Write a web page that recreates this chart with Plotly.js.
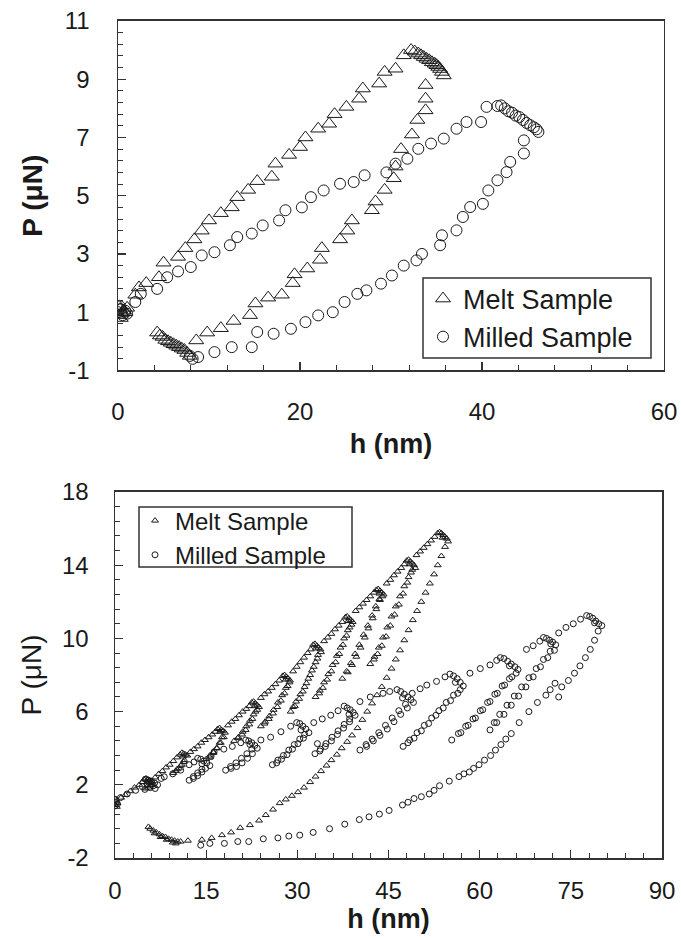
<!DOCTYPE html>
<html>
<head>
<meta charset="utf-8">
<script src="https://cdn.plot.ly/plotly-3.0.1.min.js"></script>
<style>html,body{margin:0;padding:0;background:#fff;}#chart{width:681px;height:940px;}</style>
</head>
<body>
<div id="chart"></div>
<script>
// ---------- DATA (h in nm, P in µN) ----------
const seriesNames = ["Melt Sample", "Milled Sample"];

// Tick values
const topXTicks = [0, 20, 40, 60];
const topYTicks = [-1, 1, 3, 5, 7, 9, 11];
const botXTicks = [0, 15, 30, 45, 60, 75, 90];
const botYTicks = [-2, 2, 6, 10, 14, 18];

// Top panel: melt sample [h, P]
const topMelt = [
  [0.0,0.9],[0.2,1.1],[0.4,0.95],[0.6,1.05],[0.8,1.0],[1.0,1.15],[0.3,0.8],[0.1,1.2],
  [1.9,1.6],[2.3,1.85],[3.1,2.0],[4.5,2.2],[5.0,2.7],[6.6,2.9],[7.4,3.2],[8.4,3.5],[9.2,3.8],[10.0,4.15],
  [11.3,4.4],[12.5,4.6],[13.1,4.95],[14.3,5.2],[15.3,5.5],[16.9,5.65],[17.3,6.1],[18.8,6.4],[20.0,6.67],[20.6,7.0],
  [22.0,7.3],[23.2,7.47],[23.8,7.8],[25.1,8.05],[26.5,8.33],[26.9,8.68],[28.7,8.85],[29.3,9.25],[30.5,9.36],[31.4,9.82],[32.2,10.0],
  [32.6,9.95],[33.0,9.88],[33.3,9.82],[33.6,9.76],[33.9,9.7],[34.2,9.65],[34.5,9.58],[34.8,9.53],[35.0,9.48],[35.2,9.42],[35.4,9.35],[35.6,9.25],[35.8,9.13],
  [33.8,8.8],[33.8,8.33],[33.8,7.93],[32.9,7.6],[32.3,7.1],[31.1,6.6],[30.5,6.0],[30.3,5.6],[29.3,5.2],[28.3,4.8],
  [27.9,4.5],[25.7,4.15],[25.2,3.8],[24.4,3.5],[22.4,3.2],[22.2,2.8],[20.8,2.5],[19.4,2.3],[19.2,2.0],[18.0,1.6],
  [16.5,1.5],[15.1,1.3],[14.5,0.9],[12.7,0.7],[11.3,0.45],[9.8,0.3],[8.6,0.03],
  [4.3,0.3],[4.6,0.2],[4.9,0.15],[5.2,0.05],[5.5,0.0],[5.8,-0.05],[6.1,-0.1],[6.4,-0.15],[6.7,-0.2],[7.0,-0.25],[7.3,-0.3],[7.6,-0.4],[7.9,-0.5]
];

// Top panel: milled sample [h, P]
const topMill = [
  [0.0,1.0],[0.3,1.1],[0.5,0.9],[0.8,1.05],[0.2,1.2],[1.0,0.95],
  [1.9,1.35],[2.5,1.63],[4.3,1.8],[5.4,2.2],[6.6,2.4],[8.0,2.55],[9.2,2.95],[10.6,3.06],[12.3,3.3],[13.1,3.58],
  [14.7,3.7],[15.9,3.98],[17.7,4.15],[18.4,4.5],[20.2,4.6],[21.2,4.95],[22.6,5.18],[24.4,5.41],[25.9,5.47],[27.1,5.7],
  [29.5,5.8],[30.5,6.1],[31.8,6.27],[33.0,6.61],[34.4,6.79],[35.8,6.96],[37.2,7.3],[38.3,7.53],[39.9,7.53],[40.5,8.05],
  [41.7,8.08],[42.1,8.1],[42.5,8.0],[42.9,7.9],[43.3,7.85],[43.7,7.75],[44.1,7.7],[44.5,7.6],[44.9,7.5],[45.3,7.42],[45.7,7.35],[46.0,7.28],[46.2,7.19],
  [44.6,6.9],[44.6,6.45],[43.1,6.16],[42.7,5.81],[41.7,5.53],[40.7,5.18],[40.1,4.72],[38.7,4.61],[37.9,4.27],[37.2,3.81],
  [35.6,3.64],[35.4,3.3],[33.4,3.0],[32.8,2.78],[31.4,2.6],[30.1,2.26],[28.9,1.98],[27.3,1.75],[26.3,1.63],[24.9,1.35],
  [23.6,1.0],[22.0,0.89],[20.6,0.66],[19.0,0.43],[17.1,0.26],[15.3,0.32],[14.7,-0.2],[12.5,-0.2],[10.6,-0.37],[8.8,-0.54],
  [8.2,-0.6],[7.9,-0.5]
];

// Bottom panel: melt sample, cyclic loading [h, P]
const botMelt = [
  [0,0.9],[0.2,1.1],[0.4,1.0],[0.1,1.2],[0.3,0.8],
  [1.0,1.3],[1.7,1.45],[2.5,1.65],[3.2,1.85],[4.0,2.0],[4.5,2.15],
  [4.8,2.3],[5.1,2.35],[5.4,2.3],[5.7,2.25],[6.0,2.2],[5.3,2.15],[5.9,2.1],
  [5.4,1.95],[5.0,1.8],[5.5,1.85],[6.0,2.0],
  [6.6,2.4],[7.2,2.6],[7.8,2.75],[8.4,2.95],[9.0,3.1],[9.6,3.3],[10.2,3.5],[10.7,3.65],
  [11.0,3.75],[11.3,3.7],[11.6,3.65],[11.9,3.6],[11.2,3.55],
  [11.4,3.35],[11.0,3.1],[10.5,2.9],[10.0,2.75],[9.6,2.65],
  [10.2,2.85],[10.8,3.05],[11.3,3.25],
  [12.4,3.8],[13.0,3.95],[13.6,4.1],[14.2,4.3],[14.8,4.45],[15.4,4.6],[16.0,4.75],[16.5,4.9],
  [16.9,5.05],[17.2,5.1],[17.5,5.0],[17.8,4.95],[18.1,4.85],[17.3,4.9],
  [17.6,4.6],[17.2,4.3],[16.7,4.0],[16.2,3.8],[15.6,3.6],[15.0,3.4],
  [15.6,3.5],[16.2,3.75],[16.8,4.0],[17.4,4.3],[17.9,4.6],
  [18.6,5.25],[19.2,5.45],[19.8,5.6],[20.4,5.8],[21.0,6.0],[21.6,6.15],[22.1,6.3],
  [22.5,6.5],[22.8,6.55],[23.1,6.45],[23.4,6.35],[23.7,6.25],[23.0,6.3],
  [23.1,6.0],[22.6,5.6],[22.1,5.3],[21.5,5.0],[20.9,4.75],[20.2,4.55],[19.6,4.4],
  [20.3,4.6],[21.0,4.9],[21.6,5.2],[22.2,5.5],[22.8,5.85],[23.4,6.1],
  [24.0,6.75],[24.6,6.95],[25.2,7.1],[25.8,7.3],[26.4,7.5],[27.0,7.7],
  [27.6,7.95],[27.9,8.0],[28.2,7.9],[28.5,7.8],[28.8,7.7],[28.1,7.75],
  [28.4,7.4],[27.9,7.0],[27.3,6.6],[26.7,6.25],[26.0,5.9],[25.3,5.6],[24.6,5.35],[24.0,5.2],
  [24.7,5.45],[25.4,5.75],[26.1,6.1],[26.8,6.5],[27.5,6.9],[28.1,7.3],[28.7,7.6],
  [29.3,8.2],[29.9,8.45],[30.5,8.7],[31.1,8.95],[31.7,9.2],[32.2,9.4],
  [32.6,9.65],[32.9,9.7],[33.2,9.6],[33.5,9.5],[33.8,9.4],[33.1,9.45],
  [33.4,9.1],[33.0,8.7],[32.4,8.25],[31.8,7.8],[31.2,7.35],[30.5,6.95],[29.8,6.55],[29.3,6.25],[28.9,6.0],
  [29.6,6.3],[30.3,6.7],[30.9,7.1],[31.5,7.55],[32.1,8.0],[32.7,8.45],[33.3,8.9],[33.9,9.25],
  [34.4,9.85],[35.0,10.05],[35.6,10.25],[36.2,10.5],[36.8,10.7],[37.4,10.9],
  [37.9,11.15],[38.2,11.2],[38.5,11.1],[38.8,11.0],[39.1,10.9],[38.4,10.95],
  [38.6,10.6],[38.1,10.15],[37.5,9.65],[36.9,9.15],[36.3,8.7],[35.6,8.2],[34.9,7.75],[34.2,7.3],[33.6,7.0],[33.0,6.8],
  [33.7,7.15],[34.4,7.6],[35.1,8.05],[35.8,8.55],[36.5,9.05],[37.1,9.5],[37.7,10.0],[38.3,10.45],[38.9,10.75],
  [39.6,11.5],[40.2,11.7],[40.8,11.9],[41.4,12.1],[42.0,12.3],[42.6,12.5],
  [43.0,12.65],[43.3,12.7],[43.6,12.6],[43.9,12.5],[44.2,12.4],[43.5,12.45],
  [43.6,12.1],[43.0,11.6],[42.4,11.1],[41.7,10.55],[41.1,10.05],[40.4,9.5],[39.7,9.0],[39.0,8.55],[38.3,8.15],[37.4,7.8],
  [38.1,8.2],[38.8,8.65],[39.5,9.15],[40.2,9.65],[40.9,10.2],[41.6,10.7],[42.3,11.25],[42.9,11.75],[43.5,12.15],[44.0,12.3],
  [44.7,13.0],[45.3,13.2],[45.9,13.45],[46.5,13.65],[47.1,13.85],[47.6,14.05],
  [48.0,14.25],[48.3,14.3],[48.6,14.2],[48.9,14.1],[49.2,14.0],[48.5,14.05],[49.4,13.85],
  [48.7,13.6],[48.1,13.05],[47.4,12.45],[46.7,11.85],[46.0,11.3],[45.3,10.7],[44.6,10.1],[43.9,9.6],[43.2,9.15],[42.6,8.85],[42.0,8.6],
  [42.7,9.0],[43.4,9.5],[44.1,10.05],[44.8,10.6],[45.5,11.2],[46.2,11.75],[46.9,12.3],[47.6,12.85],[48.3,13.35],[48.9,13.75],
  [49.6,14.55],[50.2,14.75],[50.8,14.95],[51.4,15.15],[52.0,15.35],[52.6,15.55],
  [53.1,15.75],[53.4,15.8],[53.7,15.75],[54.0,15.65],[54.3,15.55],[54.6,15.45],[53.9,15.5],[54.8,15.3],
  [54.3,15.0],[53.7,14.5],[53.1,14.0],[52.5,13.5],[51.8,13.0],[51.1,12.5],[50.4,12.0],[49.7,11.5],[49.0,11.0],[48.3,10.45],
  [47.6,9.9],[46.9,9.35],[46.2,8.85],[45.5,8.35],[44.7,7.85],[43.9,7.35],[43.1,6.9],[42.3,6.45],[41.5,6.0],[40.7,5.55],
  [39.9,5.1],[39.0,4.7],[38.2,4.35],[37.3,4.0],[36.5,3.65],[35.6,3.35],[34.8,3.05],[33.9,2.75],[33.0,2.45],[32.1,2.15],
  [31.1,1.85],[30.1,1.6],[29.1,1.4],[28.1,1.2],[27.1,1.0],[26.0,0.65],[24.8,0.35],[23.7,0.05],[22.2,-0.2],[20.6,-0.35],
  [19.1,-0.6],[17.6,-0.75],[15.9,-0.9],[14.3,-1.0],[12.0,-1.05],
  [10.8,-1.1],[10.3,-1.1],[9.8,-1.05],[9.3,-1.0],[8.8,-0.95],[8.3,-0.85],[7.8,-0.8],[7.3,-0.7],[6.8,-0.6],[6.3,-0.5],
  [5.8,-0.4],[5.5,-0.3],[9.5,-1.15],[8.5,-1.0],[7.5,-0.85],[6.5,-0.65],[10.0,-1.2]
];

// Bottom panel: milled sample, cyclic loading [h, P]
const botMill = [
  [0,0.85],[0.2,1.05],[0.1,1.2],[0.4,0.95],
  [0.9,1.3],[2.0,1.5],[3.4,1.7],[4.5,1.9],
  [5.0,2.3],[5.5,2.25],[6.0,2.2],[6.5,2.1],[7.0,2.0],[5.3,2.05],[6.3,1.95],[5.8,1.85],
  [6.6,1.8],[4.9,1.75],
  [7.6,2.35],[8.1,2.44],[9.5,2.6],[10.8,2.8],[12.2,3.1],[13.0,3.25],
  [13.6,3.45],[14.1,3.4],[14.6,3.3],[15.1,3.2],[15.6,3.05],[14.3,3.15],
  [14.9,2.9],[14.3,2.7],[13.6,2.5],[12.9,2.35],[12.2,2.25],
  [12.9,2.45],[13.6,2.65],[14.3,2.85],[15.8,3.55],
  [16.3,3.8],[17.9,3.95],[19.3,4.1],[20.7,4.3],
  [21.5,4.45],[22.0,4.4],[22.5,4.3],[23.0,4.15],[23.4,4.0],[22.2,4.2],
  [22.6,3.7],[21.8,3.45],[20.9,3.2],[20.0,3.0],[19.1,2.9],[18.2,2.8],
  [19.0,3.0],[19.9,3.2],[20.8,3.45],[21.7,3.7],[22.5,3.95],
  [24.0,4.45],[25.6,4.6],[27.3,4.9],[28.9,5.2],
  [29.9,5.4],[30.4,5.35],[30.9,5.2],[31.4,5.05],[31.9,4.85],[30.6,5.0],
  [31.0,4.55],[30.1,4.25],[29.2,3.95],[28.3,3.65],[27.4,3.4],[26.6,3.2],[25.9,3.1],
  [26.8,3.35],[27.7,3.6],[28.6,3.9],[29.5,4.2],[30.4,4.5],[31.2,4.75],
  [32.7,5.4],[34.1,5.6],[35.5,5.8],[36.7,6.05],
  [37.7,6.3],[38.2,6.2],[38.7,6.1],[39.2,5.95],[39.5,5.8],[38.5,5.85],
  [38.6,5.45],[37.6,5.1],[36.6,4.75],[35.6,4.4],[34.6,4.1],[33.7,3.85],[32.9,3.7],[33.3,4.25],
  [33.8,3.95],[34.7,4.25],[35.7,4.6],[36.7,4.95],[37.7,5.3],[38.6,5.6],
  [40.3,6.55],[42.0,6.8],[44.1,7.0],[45.2,7.1],
  [46.4,7.2],[47.0,7.1],[47.6,6.95],[48.2,6.8],[48.7,6.65],[49.1,6.5],[47.3,6.75],
  [48.1,6.2],[47.0,5.85],[45.9,5.45],[44.8,5.05],[43.6,4.7],[42.5,4.4],[41.4,4.1],[40.3,3.9],
  [41.3,4.2],[42.3,4.5],[43.4,4.85],[44.5,5.25],[45.6,5.65],[46.7,6.05],[47.8,6.4],
  [48.9,7.0],[50.2,7.25],[51.3,7.45],[52.9,7.65],[54.3,7.9],
  [55.1,8.05],[55.7,7.95],[56.3,7.8],[56.8,7.6],[57.3,7.4],[56.0,7.6],
  [56.4,7.0],[55.2,6.6],[54.0,6.2],[52.8,5.8],[51.6,5.35],[50.4,4.95],[49.2,4.55],[48.2,4.3],[47.4,4.1],
  [48.5,4.45],[49.7,4.85],[50.9,5.25],[52.1,5.65],[53.3,6.05],[54.5,6.5],[55.7,6.9],[56.8,7.2],
  [58.4,8.1],[60.1,8.35],[61.7,8.55],[62.8,8.8],
  [63.4,8.95],[64.0,8.9],[64.6,8.75],[65.2,8.6],[65.8,8.45],[66.3,8.3],[64.9,8.5],
  [65.3,7.9],[64.1,7.45],[62.9,7.0],[61.7,6.55],[60.5,6.1],[59.3,5.65],[58.1,5.25],[56.9,4.85],[55.4,4.45],
  [56.5,4.8],[57.7,5.2],[58.9,5.6],[60.1,6.05],[61.3,6.5],[62.5,6.95],[63.7,7.4],[64.9,7.8],[66.0,8.1],
  [67.7,9.4],[68.8,9.6],[69.9,9.85],
  [70.5,10.05],[71.0,10.0],[71.5,9.9],[72.0,9.8],[72.5,9.65],[71.7,9.7],
  [71.6,9.3],[70.5,8.85],[69.3,8.35],[68.1,7.85],[66.9,7.35],[65.7,6.85],[64.5,6.35],[63.3,5.85],[62.4,5.4],[61.7,5.0],
  [62.8,5.4],[64.0,5.85],[65.2,6.35],[66.4,6.85],[67.6,7.35],[68.8,7.9],[70.0,8.45],[71.2,8.95],[72.3,9.35],
  [73.0,10.3],[74.2,10.6],[75.4,10.8],[76.6,11.05],
  [77.6,11.25],[78.1,11.2],[78.6,11.1],[79.1,10.95],[79.6,10.8],[80.1,10.7],[78.9,10.85],
  [79.5,10.4],[78.9,9.9],[78.2,9.4],[77.4,8.95],[76.5,8.5],[75.6,8.1],[74.6,7.7],[73.5,7.35],[72.4,7.55],[73.0,6.8],
  [71.6,7.2],[70.9,6.9],[69.5,6.5],[68.1,6.0],[66.5,5.4],[65.2,4.8],[64.3,4.5],[63.5,4.2],[62.6,3.9],[61.8,3.6],
  [60.8,3.35],[59.9,3.1],[59.0,2.9],[58.3,2.7],[57.4,2.6],[56.6,2.45],[55.0,2.2],[53.4,1.95],[52.5,1.7],[51.7,1.5],
  [50.4,1.35],[49.2,1.25],[48.2,1.05],[47.3,0.9],[45.1,0.6],[43.5,0.4],[41.8,0.25],[40.2,0.1],[37.8,-0.15],[35.3,-0.4],
  [32.6,-0.6],[30.4,-0.75],[28.6,-0.8],[26.8,-0.9],[24.4,-0.95],[22.0,-1.1],[20.2,-1.1],[18.0,-1.2],[15.6,-1.2],[14.1,-1.3]
];

// Axis labels
const xTitle = "h (nm)";
const yTitle = "P (μN)";

// ---------- CHART ----------
const FONT = "Liberation Sans, Arial, Helvetica, sans-serif";
const INK = "#1a1a1a";
const W = 681, H = 940;
const hs = a => a.map(p => p[0]);
const ps = a => a.map(p => p[1]);
const px = v => v / W;          // pixel -> paper x
const py = v => 1 - v / H;      // pixel -> paper y

function mk(symbol, size) {
  return {symbol: symbol, size: size, color: INK, line: {color: INK, width: 1}};
}

const traces = [
  {x: hs(topMelt), y: ps(topMelt), name: seriesNames[0], type: "scatter", mode: "markers",
   xaxis: "x", yaxis: "y", legend: "legend", marker: mk("triangle-up-open", 13)},
  {x: hs(topMill), y: ps(topMill), name: seriesNames[1], type: "scatter", mode: "markers",
   xaxis: "x", yaxis: "y", legend: "legend", marker: mk("circle-open", 11)},
  {x: hs(botMelt), y: ps(botMelt), name: seriesNames[0], type: "scatter", mode: "markers",
   xaxis: "x2", yaxis: "y2", legend: "legend2", marker: mk("triangle-up-open", 6)},
  {x: hs(botMill), y: ps(botMill), name: seriesNames[1], type: "scatter", mode: "markers",
   xaxis: "x2", yaxis: "y2", legend: "legend2", marker: mk("circle-open", 6)}
];

function axis(ticks, extra) {
  return Object.assign({
    showline: true, linecolor: "#333", linewidth: 1.5, mirror: true,
    showgrid: false, zeroline: false,
    tickmode: "array", tickvals: ticks, ticktext: ticks.map(String),
    ticks: "inside", ticklen: 8, tickwidth: 1.2, tickcolor: "#333",
    tickfont: {family: FONT, size: 24, color: INK},
    fixedrange: true
  }, extra);
}

// legend frames (drawn as paper rectangles so their size matches the original)
const frame = (l, t, r, b) => ({type: "rect", xref: "paper", yref: "paper",
  x0: px(l), x1: px(r), y0: py(b), y1: py(t), layer: "above",
  line: {color: "#333", width: 1.5}, fillcolor: "#fff"});

const layout = {
  width: W, height: H,
  margin: {l: 0, r: 0, t: 0, b: 0},
  paper_bgcolor: "#fff", plot_bgcolor: "#fff",
  font: {family: FONT, color: INK},
  xaxis: axis(topXTicks, {domain: [0.1733, 0.9750], anchor: "y", range: [0, 60],
    ticklabelstandoff: 19,
    minor: {ticks: "inside", ticklen: 5, dtick: 4, tickcolor: "#333", tickwidth: 1},
    title: {text: "<b>" + xTitle + "</b>", font: {family: FONT, size: 27, color: INK}, standoff: 10}}),
  yaxis: axis(topYTicks, {domain: [0.6059, 0.9777], anchor: "x", range: [-1, 11],
    ticklabelstandoff: 22,
    minor: {ticks: "inside", ticklen: 5, dtick: 0.4, tick0: -1, tickcolor: "#333", tickwidth: 1},
    title: {text: "<b>" + yTitle + "</b>", font: {family: FONT, size: 28, color: INK}, standoff: 14}}),
  xaxis2: axis(botXTicks, {domain: [0.1689, 0.9721], anchor: "y2", range: [0, 90],
    ticklabelstandoff: 11,
    minor: {ticks: "inside", ticklen: 5, dtick: 3, tickcolor: "#333", tickwidth: 1},
    title: {text: "<b>" + xTitle + "</b>", font: {family: FONT, size: 27, color: INK}, standoff: 0}}),
  yaxis2: axis(botYTicks, {domain: [0.0872, 0.4766], anchor: "x2", range: [-2, 18],
    ticklabelstandoff: 20,
    minor: {ticks: "inside", ticklen: 5, dtick: 0.8, tick0: -2, tickcolor: "#333", tickwidth: 1},
    title: {text: yTitle, font: {family: FONT, size: 28, color: INK}, standoff: 12}}),
  shapes: [frame(423, 278, 651, 358), frame(139, 507, 352, 567)],
  legend: {x: px(423), xanchor: "left", y: py(318), yanchor: "middle",
    bgcolor: "rgba(0,0,0,0)", borderwidth: 0,
    font: {family: FONT, size: 27, color: INK}, itemsizing: "trace", tracegroupgap: 0},
  legend2: {x: px(135), xanchor: "left", y: py(538), yanchor: "middle",
    bgcolor: "rgba(0,0,0,0)", borderwidth: 0,
    font: {family: FONT, size: 24, color: INK}, itemsizing: "trace", tracegroupgap: 0},
  showlegend: true
};

Plotly.newPlot("chart", traces, layout, {displayModeBar: false, staticPlot: true});
</script>
</body>
</html>
